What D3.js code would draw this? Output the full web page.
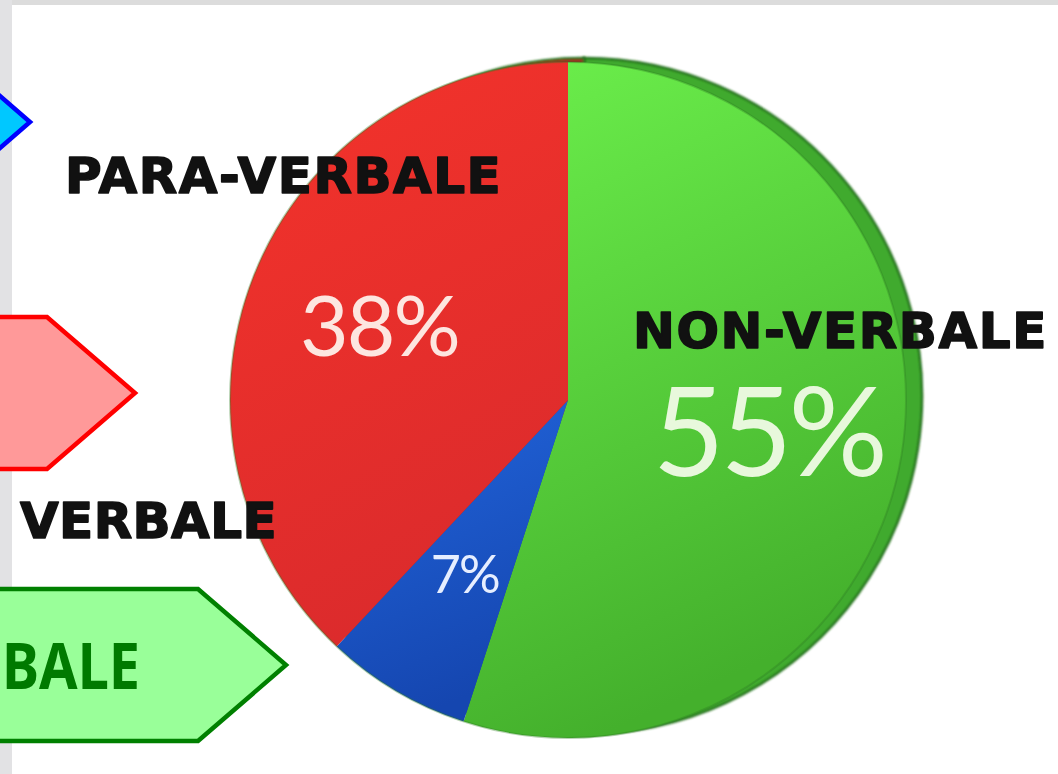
<!DOCTYPE html>
<html>
<head>
<meta charset="utf-8">
<script src="https://cdn.jsdelivr.net/npm/d3@7"></script>
<style>
  html, body { margin: 0; padding: 0; background: #ffffff; overflow: hidden; }
  svg { display: block; }
</style>
</head>
<body>
<svg id="chart" width="1058" height="774"></svg>
<script>
// ---- data ----
const categories = ["NON-VERBALE", "VERBALE", "PARA-VERBALE"];
const values = [55, 7, 38];
const valueLabels = ["55%", "7%", "38%"];
const arrowTexts = ["", "", "BALE"];

// ---- styles / layout ----
const W = 1058, H = 774;
const pieCenter = [568, 400];
const pieRadius = 338;
const rimOffset = [16, -4];
const faceColors = {
  "NON-VERBALE": ["#6cf04c", "#44b02c"],
  "VERBALE": ["#2266dd", "#1546b0"],
  "PARA-VERBALE": ["#f4332b", "#dc2b2c"]
};
const rimColors = { "NON-VERBALE": "#41aa2e", "VERBALE": "#123f9c", "PARA-VERBALE": "#a82020" };
const valueFont = { "NON-VERBALE": 124, "VERBALE": 52, "PARA-VERBALE": 84 };
const valueColor = { "NON-VERBALE": "#e8f8dc", "VERBALE": "#e6eeff", "PARA-VERBALE": "#fde6e0" };
const catLabelPos = { "PARA-VERBALE": [65, 193], "NON-VERBALE": [633, 348], "VERBALE": [20, 538] };
const catLetterSpacing = { "PARA-VERBALE": 1.5, "NON-VERBALE": 1.6, "VERBALE": 0.4 };
const arrowStyles = [
  { fill: "#00c8ff", stroke: "#0000ff", top: 46, bottom: 198, body: -58 },
  { fill: "#ff9999", stroke: "#ff0000", top: 317, bottom: 469, body: 47 },
  { fill: "#99ff99", stroke: "#008000", top: 589, bottom: 741, body: 198 }
];

const svg = d3.select("#chart");

// background frame
svg.append("rect").attr("width", W).attr("height", H).attr("fill", "#ffffff");
svg.append("rect").attr("x", 0).attr("y", 0).attr("width", W).attr("height", 5).attr("fill", "#dcdcdc");
svg.append("rect").attr("x", 0).attr("y", 0).attr("width", 12).attr("height", H).attr("fill", "#e2e2e4");

const defs = svg.append("defs");
categories.forEach((c, i) => {
  const g = defs.append("linearGradient").attr("id", "grad" + i)
    .attr("x1", "0").attr("y1", "0").attr("x2", "0.3").attr("y2", "1");
  g.append("stop").attr("offset", "0%").attr("stop-color", faceColors[c][0]);
  g.append("stop").attr("offset", "100%").attr("stop-color", faceColors[c][1]);
});
const glow = defs.append("filter").attr("id", "soft").attr("x", "-10%").attr("y", "-10%").attr("width", "120%").attr("height", "120%");
glow.append("feGaussianBlur").attr("stdDeviation", 1.2);

// pie
const pie = d3.pie().sort(null).value(d => d.value);
const arcs = pie(categories.map((c, i) => ({ cat: c, value: values[i], label: valueLabels[i] })));
const arc = d3.arc().innerRadius(0).outerRadius(pieRadius);
const labelArc = d3.arc().innerRadius(pieRadius * 0.6).outerRadius(pieRadius * 0.6);

// rim (3D side)
const rim = svg.append("g").attr("transform", `translate(${pieCenter[0] + rimOffset[0]},${pieCenter[1] + rimOffset[1]})`);
rim.selectAll("path").data(arcs).join("path")
  .attr("d", arc)
  .attr("fill", d => rimColors[d.data.cat])
  .attr("stroke", "#23701a").attr("stroke-width", 2.5).attr("filter", "url(#soft)");

// face
const face = svg.append("g").attr("transform", `translate(${pieCenter[0]},${pieCenter[1]})`);
face.selectAll("path").data(arcs).join("path")
  .attr("d", arc)
  .attr("fill", (d, i) => `url(#grad${i})`);
face.append("circle").attr("r", pieRadius).attr("fill", "none")
  .attr("stroke", "#2e7d22").attr("stroke-opacity", 0.35).attr("stroke-width", 2);

// value labels
face.selectAll("text.val").data(arcs).join("text")
  .attr("class", "val")
  .attr("transform", d => `translate(${labelArc.centroid(d)})`)
  .attr("text-anchor", "middle")
  .attr("dy", "0.36em")
  .attr("font-family", "Lato, 'Open Sans', sans-serif")
  .attr("font-size", d => valueFont[d.data.cat])
  .attr("letter-spacing", d => d.data.cat === "NON-VERBALE" ? -4 : -2)
  .attr("fill", d => valueColor[d.data.cat])
  .text(d => d.data.label);

// category labels
svg.selectAll("text.cat").data(categories).join("text")
  .attr("class", "cat")
  .attr("x", d => catLabelPos[d][0])
  .attr("y", d => catLabelPos[d][1])
  .attr("font-family", "'DejaVu Sans', sans-serif")
  .attr("font-weight", "bold")
  .attr("font-size", 50)
  .attr("letter-spacing", d => catLetterSpacing[d])
  .attr("fill", "#111111")
  .attr("stroke", "#111111")
  .attr("stroke-width", 1.6)
  .attr("stroke-linejoin", "round")
  .text(d => d);

// arrows on the left
const arrowPath = s => {
  const mid = (s.top + s.bottom) / 2;
  const tip = s.body + 88;
  return d3.line()([[-20, s.top], [s.body, s.top], [tip, mid], [s.body, s.bottom], [-20, s.bottom]]) + "Z";
};
const arrows = svg.append("g");
arrows.selectAll("path").data(arrowStyles).join("path")
  .attr("d", arrowPath)
  .attr("fill", d => d.fill)
  .attr("stroke", d => d.stroke)
  .attr("stroke-width", 4.5)
  .attr("stroke-linejoin", "miter");
arrows.selectAll("text").data(arrowStyles.map((s, i) => ({ s, t: arrowTexts[i] })).filter(d => d.t))
  .join("text")
  .attr("x", 2)
  .attr("y", d => (d.s.top + d.s.bottom) / 2 + 24)
  .attr("textLength", 138)
  .attr("lengthAdjust", "spacingAndGlyphs")
  .attr("font-family", "'Noto Sans', sans-serif")
  .attr("font-weight", "bold")
  .attr("font-size", 64)
  .attr("fill", "#007a00")
  .text(d => d.t);
</script>
</body>
</html>
